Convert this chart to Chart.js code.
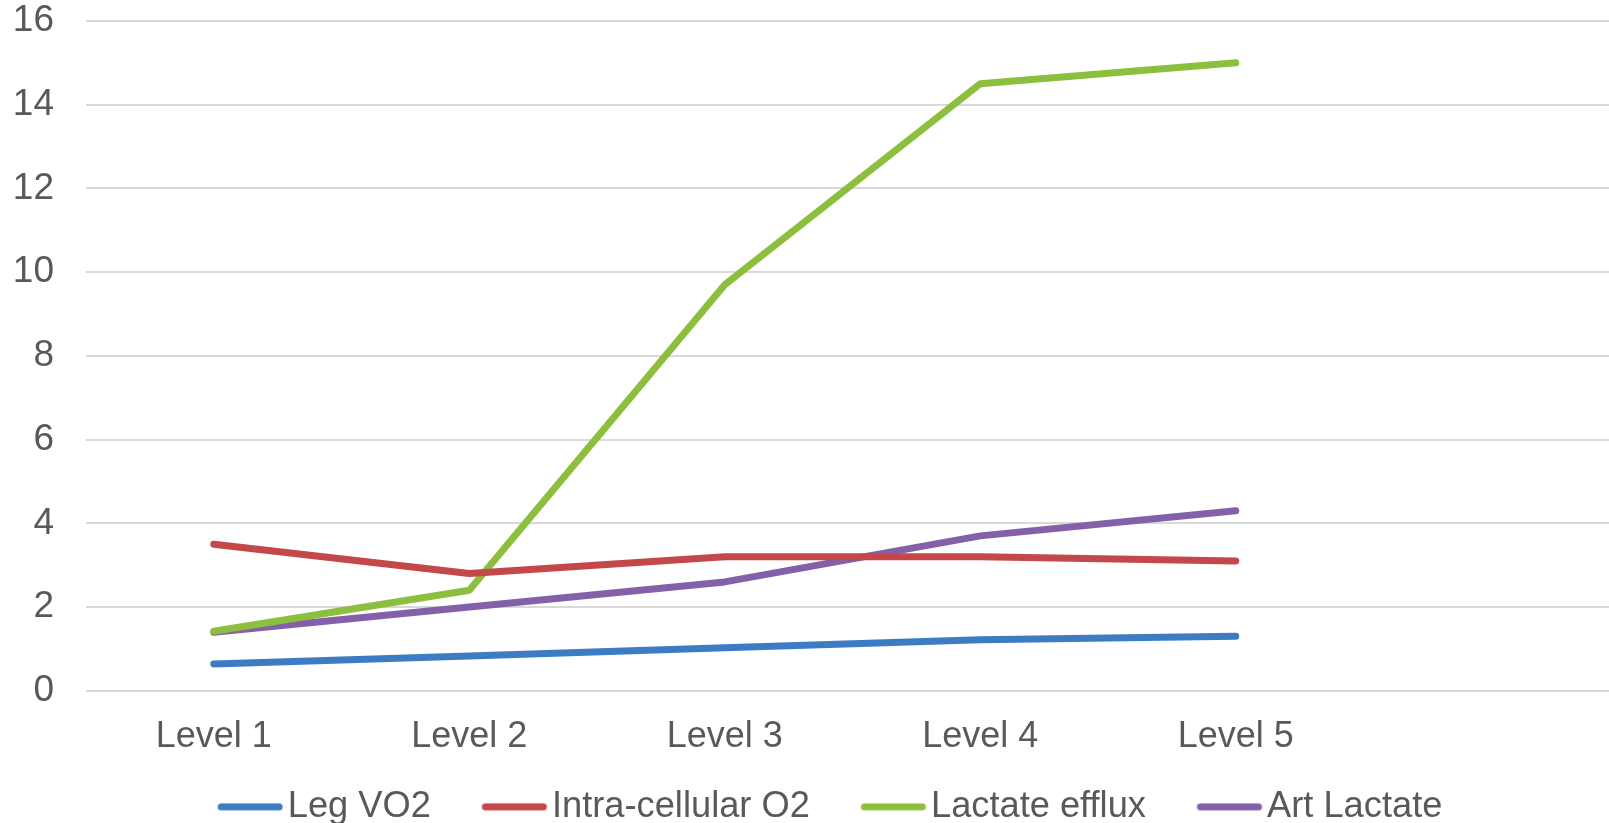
<!DOCTYPE html>
<html>
<head>
<meta charset="utf-8">
<script src="https://cdn.jsdelivr.net/npm/chart.js@4/dist/chart.umd.min.js"></script>
<style>
  html, body { margin: 0; padding: 0; background: #fff; overflow: hidden; }
  /* the plot runs slightly past the right edge, as in the original crop */
  #wrap { width: 1619px; height: 823px; }
</style>
</head>
<body>
<div id="wrap"><canvas id="levelChart"></canvas></div>
<script>
// categories (last slot is empty, as in the original sheet)
const levels = ['Level 1', 'Level 2', 'Level 3', 'Level 4', 'Level 5', ''];

// series values
const legVO2        = [0.64, 0.83, 1.03, 1.22, 1.30];
const intraO2       = [3.5, 2.8, 3.2, 3.2, 3.1];
const lactateEfflux = [1.42, 2.4, 9.7, 14.5, 15.0];
const artLactate    = [1.4, 2.0, 2.6, 3.7, 4.3];

const yTicks = [0, 2, 4, 6, 8, 10, 12, 14, 16];

const textColor = '#595959';
const font = "'Liberation Sans', Arial, sans-serif";

// legend marker: short thick line, pushed right so it sits close to its text
function legendMarker(color) {
    const c = document.createElement('canvas');
    c.width = 124;
    c.height = 10;
    const g = c.getContext('2d');
    g.strokeStyle = color;
    g.lineWidth = 7;
    g.lineCap = 'round';
    g.beginPath();
    g.moveTo(60, 5);
    g.lineTo(118, 5);
    g.stroke();
    return c;
}

function line(label, data, color) {
    return {
        label: label,
        data: data,
        borderColor: color,
        backgroundColor: color,
        borderWidth: 7,
        borderCapStyle: 'round',
        borderJoinStyle: 'round',
        pointRadius: 0,
        pointHoverRadius: 0,
        pointStyle: legendMarker(color),
        tension: 0,
        fill: false
    };
}

function noPad(scale) {
    scale.paddingTop = 0;
    scale.paddingBottom = 0;
    scale.paddingLeft = 0;
    scale.paddingRight = 0;
}

const ctx = document.getElementById('levelChart').getContext('2d');
new Chart(ctx, {
    type: 'line',
    data: {
        labels: levels,
        datasets: [
            line('Leg VO2', legVO2, '#3d7cc4'),
            line('Intra-cellular O2', intraO2, '#c4474a'),
            line('Lactate efflux', lactateEfflux, '#8dbf3f'),
            line('Art Lactate', artLactate, '#8360a8')
        ]
    },
    options: {
        responsive: true,
        maintainAspectRatio: false,
        animation: false,
        layout: { padding: { top: 21, right: 0, left: 0, bottom: -12 } },
        scales: {
            x: {
                offset: true,
                grid: { display: false, drawTicks: false },
                border: { display: false },
                ticks: {
                    color: textColor,
                    font: { family: font, size: 36 },
                    padding: 25,
                    maxRotation: 0,
                    autoSkip: false
                },
                afterFit: function (scale) { scale.height = 88; noPad(scale); }
            },
            y: {
                min: 0,
                max: 16,
                afterBuildTicks: function (scale) {
                    scale.ticks = yTicks.map(v => ({ value: v }));
                },
                grid: { color: '#d9d9d9', lineWidth: 2, drawTicks: false },
                border: { display: false },
                ticks: {
                    color: textColor,
                    font: { family: font, size: 37 },
                    padding: 32
                },
                afterFit: function (scale) { scale.width = 86; noPad(scale); }
            }
        },
        plugins: {
            legend: {
                position: 'bottom',
                labels: {
                    usePointStyle: true,
                    pointStyleWidth: 93,
                    color: textColor,
                    font: { family: font, size: 36.25 },
                    padding: 10
                }
            },
            tooltip: { enabled: false }
        }
    }
});
</script>
</body>
</html>
